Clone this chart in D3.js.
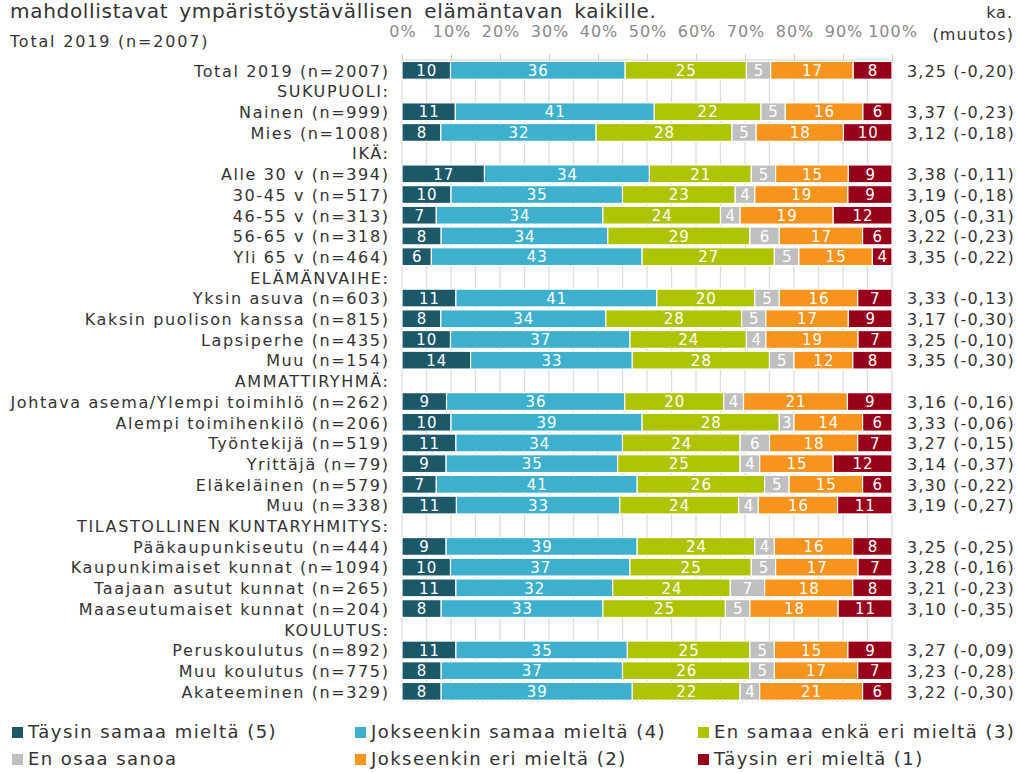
<!DOCTYPE html>
<html><head><meta charset="utf-8">
<script src="https://cdn.jsdelivr.net/npm/d3@7"></script>
<style>
body{margin:0;background:#fff}
svg{display:block}
text{font-family:"DejaVu Sans",Verdana,sans-serif}
</style></head>
<body><svg id="c" width="1016" height="773"></svg>
<script>
const categories = ["Total 2019 (n=2007)","SUKUPUOLI:","Nainen (n=999)","Mies (n=1008)","IKÄ:","Alle 30 v (n=394)","30-45 v (n=517)","46-55 v (n=313)","56-65 v (n=318)","Yli 65 v (n=464)","ELÄMÄNVAIHE:","Yksin asuva (n=603)","Kaksin puolison kanssa (n=815)","Lapsiperhe (n=435)","Muu (n=154)","AMMATTIRYHMÄ:","Johtava asema/Ylempi toimihlö (n=262)","Alempi toimihenkilö (n=206)","Työntekijä (n=519)","Yrittäjä (n=79)","Eläkeläinen (n=579)","Muu (n=338)","TILASTOLLINEN KUNTARYHMITYS:","Pääkaupunkiseutu (n=444)","Kaupunkimaiset kunnat (n=1094)","Taajaan asutut kunnat (n=265)","Maaseutumaiset kunnat (n=204)","KOULUTUS:","Peruskoulutus (n=892)","Muu koulutus (n=775)","Akateeminen (n=329)"];
const seriesNames = ["Täysin samaa mieltä (5)","Jokseenkin samaa mieltä (4)","En samaa enkä eri mieltä (3)","En osaa sanoa","Jokseenkin eri mieltä (2)","Täysin eri mieltä (1)"];
const taysinSamaa   = [10,null,11,8,null,17,10,7,8,6,null,11,8,10,14,null,9,10,11,9,7,11,null,9,10,11,8,null,11,8,8];
const jokseenSamaa  = [36,null,41,32,null,34,35,34,34,43,null,41,34,37,33,null,36,39,34,35,41,33,null,39,37,32,33,null,35,37,39];
const enSamaaEnkaEri= [25,null,22,28,null,21,23,24,29,27,null,20,28,24,28,null,20,28,24,25,26,24,null,24,25,24,25,null,25,26,22];
const enOsaa        = [5,null,5,5,null,5,4,4,6,5,null,5,5,4,5,null,4,3,6,4,5,4,null,4,5,7,5,null,5,5,4];
const jokseenEri    = [17,null,16,18,null,15,19,19,17,15,null,16,17,19,12,null,21,14,18,15,15,16,null,16,17,18,18,null,15,17,21];
const taysinEri     = [8,null,6,10,null,9,9,12,6,4,null,7,9,7,8,null,9,6,7,12,6,11,null,8,7,8,11,null,9,7,6];
const means   = [3.25,null,3.37,3.12,null,3.38,3.19,3.05,3.22,3.35,null,3.33,3.17,3.25,3.35,null,3.16,3.33,3.27,3.14,3.30,3.19,null,3.25,3.28,3.21,3.10,null,3.27,3.23,3.22];
const changes = [-0.20,null,-0.23,-0.18,null,-0.11,-0.18,-0.31,-0.23,-0.22,null,-0.13,-0.30,-0.10,-0.30,null,-0.16,-0.06,-0.15,-0.37,-0.22,-0.27,null,-0.25,-0.16,-0.23,-0.35,null,-0.09,-0.28,-0.30];
const tickValues = [0,10,20,30,40,50,60,70,80,90,100];
const colors = ["#1d5869","#3db0ce","#afc400","#bfbfbf","#f7941e","#970019"];

const seriesArrays = [taysinSamaa,jokseenSamaa,enSamaaEnkaEri,enOsaa,jokseenEri,taysinEri];
const rows = categories.map((c,i)=>{
  const r = {cat:c, idx:i, header: taysinSamaa[i]===null};
  seriesArrays.forEach((a,k)=>r["k"+k] = a[i]===null?0:a[i]);
  return r;
});
const keys = seriesNames.map((_,k)=>"k"+k);

const svg = d3.select("#c");
const x = d3.scaleLinear().domain([0,100]).range([402,892]);
const y = d3.scaleBand().domain(d3.range(categories.length)).range([60,701.7]).paddingInner(0.14).paddingOuter(0.07);
const fmt = v => d3.format(".2f")(v).replace(".",",").replace("−","-");

// gridlines every 5%
svg.append("g").selectAll("line").data(d3.range(0,101,5)).join("line")
  .attr("x1",d=>x(d)).attr("x2",d=>x(d)).attr("y1",60).attr("y2",701)
  .attr("stroke","#dcdcdc").attr("stroke-width",1.3);
svg.append("line").attr("x1",402).attr("x2",892).attr("y1",701.5).attr("y2",701.5)
  .attr("stroke","#d6d6d6").attr("stroke-dasharray","1,4");

// top axis
const axis = d3.axisTop(x).tickValues(tickValues).tickSize(6).tickFormat(d=>d+"%");
const ag = svg.append("g").attr("transform","translate(0,60)").call(axis);
ag.select(".domain").attr("stroke","#cfcfcf").attr("d","M402,0H892");
ag.selectAll(".tick line").attr("stroke","#cfcfcf");
ag.selectAll(".tick text").attr("fill","#8a8a8a").attr("font-size",16).attr("y",-23)
  .attr("letter-spacing","1px").attr("dx","0.5px")
  .attr("font-family","'DejaVu Sans',Verdana,sans-serif");

// stacks
const dataRows = rows.filter(r=>!r.header);
const stack = d3.stack().keys(keys).offset(d3.stackOffsetExpand);
const stacked = stack(dataRows);
const gs = svg.append("g").selectAll("g").data(stacked).join("g").attr("fill",(d,i)=>colors[i]);
gs.selectAll("rect").data(d=>d).join("rect")
  .attr("x",d=>x(d[0]*100)).attr("width",d=>x(d[1]*100)-x(d[0]*100))
  .attr("y",d=>y(d.data.idx)).attr("height",y.bandwidth())
  .attr("stroke","#fff").attr("stroke-width",1.2);
gs.selectAll("text").data((d,i)=>d.map(p=>({p,key:keys[i]}))).join("text")
  .attr("x",d=>(x(d.p[0]*100)+x(d.p[1]*100))/2+0.5)
  .attr("y",d=>y(d.p.data.idx)+y.bandwidth()/2)
  .attr("dy","0.38em").attr("text-anchor","middle").attr("fill","#fff").attr("font-size",15)
  .attr("letter-spacing","1px")
  .text(d=>d.p.data[d.key]);

// category labels
svg.append("g").selectAll("text").data(rows).join("text")
  .attr("x",389.5).attr("y",d=>y(d.idx)+y.bandwidth()/2+0.5).attr("dy","0.36em")
  .attr("text-anchor","end").attr("fill","#333").attr("font-size",16)
  .attr("letter-spacing","1.6px")
  .text(d=>d.cat);

// mean values
svg.append("g").selectAll("text").data(rows.filter(r=>!r.header)).join("text")
  .attr("x",907).attr("y",d=>y(d.idx)+y.bandwidth()/2+0.5).attr("dy","0.36em")
  .attr("fill","#333").attr("font-size",16).attr("letter-spacing","1.1px")
  .text(d=>fmt(means[d.idx])+" ("+fmt(changes[d.idx])+")");

// titles
svg.append("text").attr("x",10).attr("y",18).attr("font-size",20).attr("fill","#333")
  .attr("letter-spacing","0.7px").attr("word-spacing","4px")
  .text("mahdollistavat ympäristöystävällisen elämäntavan kaikille.");
svg.append("text").attr("x",10).attr("y",47).attr("font-size",16).attr("fill","#333")
  .attr("letter-spacing","1.8px").text("Total 2019 (n=2007)");
svg.append("text").attr("x",1013).attr("y",18).attr("font-size",16).attr("fill","#333")
  .attr("text-anchor","end").attr("letter-spacing","1px").text("ka.");
svg.append("text").attr("x",1014).attr("y",40).attr("font-size",16).attr("fill","#333")
  .attr("text-anchor","end").attr("letter-spacing","1.1px").text("(muutos)");

// legend
const legPos = [[12,732],[355,732],[698,732],[12,759],[355,759],[698,759]];
const lg = svg.append("g").selectAll("g").data(seriesNames).join("g")
  .attr("transform",(d,i)=>`translate(${legPos[i][0]},${legPos[i][1]})`);
lg.append("rect").attr("x",0).attr("y",-5).attr("width",11).attr("height",11).attr("fill",(d,i)=>colors[i]);
lg.append("text").attr("x",16).attr("y",0).attr("dy","0.36em").attr("font-size",18).attr("fill","#333")
  .attr("letter-spacing","1.45px").text(d=>d);
</script></body></html>
